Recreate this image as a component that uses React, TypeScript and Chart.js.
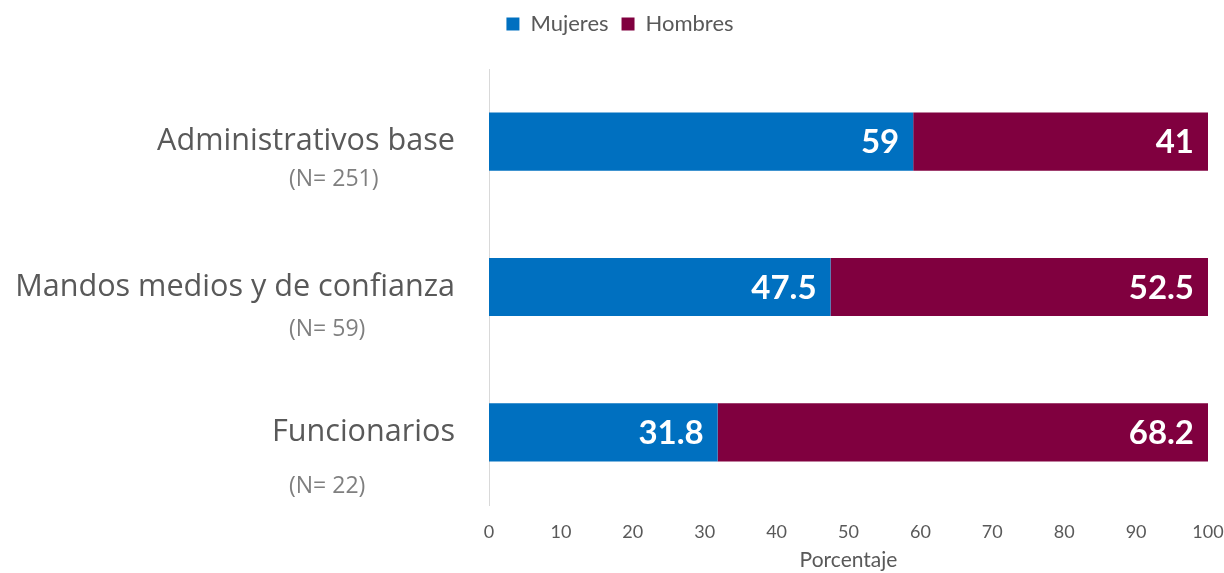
import React, { useEffect, useRef } from "react";
import { Chart, registerables } from "chart.js";

Chart.register(...registerables);

const categories = ["Administrativos base", "Mandos medios y de confianza", "Funcionarios"];
const sampleLabels = ["(N= 251)", "(N= 59)", "(N= 22)"];
const mujeres = [59, 47.5, 31.8];
const hombres = [41, 52.5, 68.2];
const xTicks = [0, 10, 20, 30, 40, 50, 60, 70, 80, 90, 100];

const subOffsets = [38, 42, 54];
const GREY = "#595959";
const LIGHT = "#7f7f7f";

const legendHeightPlugin = {
  id: "legendHeight",
  afterInit(chart: any) {
    const lg = chart.legend;
    if (!lg) return;
    const origFit = lg.fit.bind(lg);
    lg.fit = function () {
      origFit();
      this.height = 69;
    };
    const origDraw = lg.draw.bind(lg);
    lg.draw = function () {
      const ctx = chart.ctx;
      ctx.save();
      ctx.translate(16, 0);
      origDraw();
      ctx.restore();
    };
  },
};

const categoryLabelPlugin = {
  id: "categoryLabels",
  afterDraw(chart: any) {
    const ctx = chart.ctx;
    const y = chart.scales.y;
    const xRight = y.right - 34;
    ctx.save();
    ctx.textBaseline = "middle";
    categories.forEach((c, i) => {
      const py = y.getPixelForValue(i);
      ctx.textAlign = "right";
      ctx.fillStyle = GREY;
      ctx.font = "30.6px 'Open Sans'";
      ctx.fillText(c, xRight, py);
      ctx.textAlign = "left";
      ctx.fillStyle = LIGHT;
      ctx.font = "23px 'Open Sans'";
      ctx.fillText(sampleLabels[i], 289, py + subOffsets[i]);
    });
    ctx.restore();
  },
};

const valueLabelPlugin = {
  id: "valueLabels",
  afterDatasetsDraw(chart: any) {
    const ctx = chart.ctx;
    ctx.save();
    ctx.textAlign = "right";
    ctx.textBaseline = "middle";
    ctx.fillStyle = "#ffffff";
    ctx.font = "bold 33px Lato";
    chart.data.datasets.forEach((ds: any, di: number) => {
      const meta = chart.getDatasetMeta(di);
      meta.data.forEach((el: any, i: number) => {
        const v = ds.data[i];
        ctx.fillText(String(v), el.x - 14, el.y + 1);
      });
    });
    ctx.restore();
  },
};

export default function App() {
  const ref = useRef<HTMLCanvasElement | null>(null);
  useEffect(() => {
    document.body.style.margin = "0";
    const chart = new Chart(ref.current as HTMLCanvasElement, {
      type: "bar",
      data: {
        labels: categories,
        datasets: [
          { label: "Mujeres", data: mujeres, backgroundColor: "#0070C0", categoryPercentage: 0.4, barPercentage: 1 },
          { label: "Hombres", data: hombres, backgroundColor: "#80003F", categoryPercentage: 0.4, barPercentage: 1 },
        ],
      },
      options: {
        indexAxis: "y",
        animation: false,
        responsive: false,
        maintainAspectRatio: false,
        layout: { padding: { top: 0, right: 16, left: 0, bottom: 0 } },
        plugins: {
          tooltip: { enabled: false },
          legend: {
            position: "top",
            labels: {
              color: GREY,
              font: { family: "Lato", size: 22 },
              boxWidth: 13,
              boxHeight: 13,
              padding: 13,
            },
          },
        },
        scales: {
          x: {
            stacked: true,
            min: 0,
            max: 100,
            afterBuildTicks(scale: any) {
              scale.ticks = xTicks.map((v) => ({ value: v }));
            },
            afterFit(scale: any) {
              scale.height = 68;
              scale.paddingRight = 0;
              scale.paddingLeft = 0;
            },
            grid: { display: false, drawTicks: false },
            border: { display: false },
            ticks: { color: GREY, font: { family: "Lato", size: 18 }, padding: 16, maxRotation: 0 },
            title: {
              display: true,
              text: "Porcentaje",
              color: GREY,
              font: { family: "Lato", size: 21 },
              padding: { top: 0, bottom: 0 },
            },
          },
          y: {
            stacked: true,
            afterFit(scale: any) {
              scale.width = 489;
            },
            grid: { display: false, drawTicks: false },
            border: { display: true, color: "#d9d9d9", width: 1 },
            ticks: { display: false },
          },
        },
      },
      plugins: [legendHeightPlugin, categoryLabelPlugin, valueLabelPlugin],
    } as any);
    return () => chart.destroy();
  }, []);
  return (
    <div style={{ position: "absolute", left: 0, top: 0, width: 1224, height: 573 }}>
      <canvas ref={ref} width={1224} height={573} style={{ width: 1224, height: 573 }} />
    </div>
  );
}
